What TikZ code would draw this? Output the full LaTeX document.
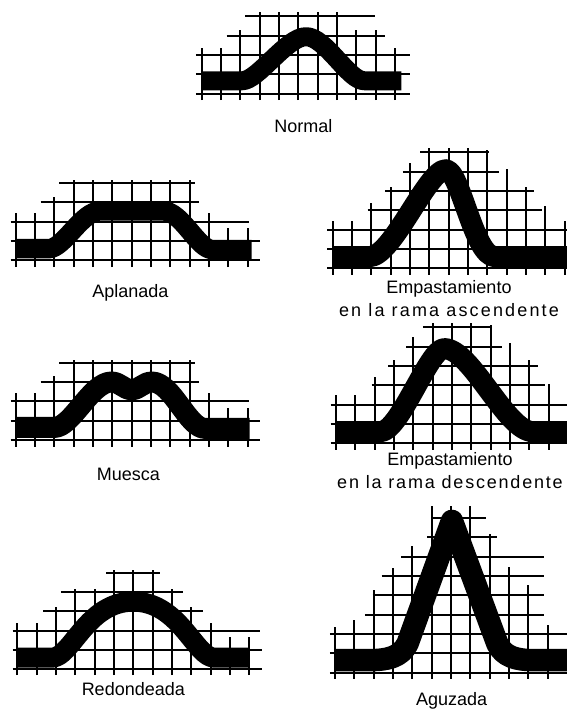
\documentclass[tikz,border=0pt]{standalone}
\usepackage{fontspec}
\setmainfont{Liberation Sans}

\begin{document}
\begin{tikzpicture}[x=1pt, y=-1pt,
    gridline/.style={line width=1.9pt},
    wave/.style={line width=#1, line cap=butt, line join=round},
    wave/.default=20pt,
    caption/.style={font=\fontsize{18}{23}\selectfont, align=center, inner sep=0pt, anchor=base},
    panel/.style={x=19.33pt, y=19.33pt}
  ]
  \useasboundingbox (0,0) rectangle (567,713);

  % Normal
  \begin{scope}[shift={(201.7,93.7)}, panel]
    \foreach \i/\t in {0/2.38,1/2.38,2/3.3,3/4.22,4/4.22,5/4.22,6/4.22,7/4.22,8/3.3,9/3.3,10/2.38}
      \draw[gridline] (\i,-0.33) -- (\i,\t);
    \foreach \j/\a/\b in {0/-0.3/10.76,1/-0.3/10.76,2/-0.3/10.76,3/1.29/9.47,4/2.24/8.96}
      \draw[gridline] (\a,\j) -- (\b,\j);
    \draw[wave=19pt] (0,0.67) -- (2.1,0.67) .. controls (2.9,0.67) and (4.4,2.95) .. (5.4,2.95)
      .. controls (6.4,2.95) and (7.6,0.67) .. (8.4,0.67) -- (10.33,0.67);
  \end{scope}
  \node[caption] (normal) at (303.3,132.3) {Normal};

  % Aplanada
  \begin{scope}[shift={(15.7,260.3)}, panel]
    \foreach \i/\t in {0/2.43,1/2.43,2/3.3,3/4.16,4/4.16,5/4.16,6/4.16,7/4.16,8/4.16,9/4.16,10/2.43,11/1.66,12/1.66}
      \draw[gridline] (\i,-0.35) -- (\i,\t);
    \foreach \j/\a/\b in {0/-0.26/12.64,1/-0.26/12.64,2/-0.26/12.08,3/1.29/9.5,4/2.26/9.28}
      \draw[gridline] (\a,\j) -- (\b,\j);
    \draw[wave=19.5pt] (0,0.6) -- (1.7,0.6) .. controls (2.5,0.6) and (3.4,2.56) .. (4.4,2.56)
      -- (7.6,2.56) .. controls (8.6,2.56) and (9.4,0.55) .. (10.2,0.55) -- (12.2,0.55);
  \end{scope}
  \node[caption] (aplanada) at (130.3,297) {Aplanada};

  % Muesca
  \begin{scope}[shift={(15.7,440)}, panel]
    \foreach \i/\t in {0/2.43,1/2.43,2/3.3,3/4.16,4/4.16,5/4.16,6/4.16,7/4.16,8/4.16,9/4.16,10/2.43,11/1.66,12/1.66}
      \draw[gridline] (\i,-0.35) -- (\i,\t);
    \foreach \j/\a/\b in {0/-0.26/12.64,1/-0.26/12.64,2/-0.26/12.08,3/1.29/9.5,4/2.26/9.28}
      \draw[gridline] (\a,\j) -- (\b,\j);
    \draw[wave=21pt] (0,0.65) -- (2.0,0.65) .. controls (2.9,0.65) and (3.9,3.0) .. (4.95,3.0)
      .. controls (5.4,3.0) and (5.6,2.6) .. (6.0,2.6) .. controls (6.4,2.6) and (6.6,3.0) .. (7.05,3.0)
      .. controls (8.1,3.0) and (8.9,0.6) .. (9.8,0.6) -- (12.1,0.6);
  \end{scope}
  \node[caption] (muesca) at (128.3,480) {Muesca};

  % Empastamiento en la rama ascendente
  \begin{scope}[shift={(332.7,268.3)}, panel]
    \foreach \i/\t in {0/2.47,1/2.47,2/3.37,3/4.23,4/5.44,5/6.2,6/6.2,7/6.2,8/6.1,9/5.13,10/4.23,11/3.2,12/2.47}
      \draw[gridline] (\i,-0.33) -- (\i,\t);
    \foreach \j/\a/\b in {0/-0.28/12.5,1/-0.28/12.5,2/-0.28/12.5,3/1.81/10.83,4/2.71/10.4,5/3.63/8.58,6/4.52/8.06}
      \draw[gridline] (\a,\j) -- (\b,\j);
    \draw[wave=21pt] (0,0.6) -- (1.9,0.6) .. controls (3.1,0.6) and (4.9,5.1) .. (5.85,5.1)
      .. controls (6.6,5.1) and (7.3,0.6) .. (8.4,0.6) -- (12.5,0.6);
  \end{scope}
  \node[caption] (ascendente) at (449,316.7)
    {Empastamiento\\{\addfontfeature{LetterSpace=12}en la rama ascendente}};

  % Empastamiento en la rama descendente
  \begin{scope}[shift={(336,443.3)}, panel]
    \foreach \i/\t in {0/2.5,1/2.5,2/3.45,3/4.3,4/5.5,5/6.24,6/6.24,7/6.24,8/6.1,9/5.17,10/4.3,11/3.07}
      \draw[gridline] (\i,-0.33) -- (\i,\t);
    \foreach \j/\a/\b in {0/-0.28/12.5,1/-0.28/12.5,2/-0.28/12.5,3/1.84/10.83,4/2.71/10.43,5/3.63/8.58,6/4.5/8.06}
      \draw[gridline] (\a,\j) -- (\b,\j);
    \draw[wave=21pt] (0,0.6) -- (2.3,0.6) .. controls (3.3,0.6) and (4.8,4.9) .. (5.6,4.9)
      .. controls (7.0,4.9) and (8.8,0.6) .. (10.2,0.6) -- (12.5,0.6);
  \end{scope}
  \node[caption] (descendente) at (450,488.3)
    {Empastamiento\\{\addfontfeature{LetterSpace=10}en la rama descendente}};

  % Redondeada
  \begin{scope}[shift={(17.3,669.3)}, panel]
    \foreach \i/\t in {0/2.38,1/2.38,2/3.24,3/4.14,4/4.14,5/5.14,6/5.14,7/5.14,8/4.14,9/3.24,10/2.38,11/1.66,12/1.66}
      \draw[gridline] (\i,-0.3) -- (\i,\t);
    \foreach \j/\a/\b in {0/-0.24/12.65,1/-0.24/12.65,2/-0.24/12.58,3/1.35/9.6,4/2.26/8.56,5/4.6/7.4}
      \draw[gridline] (\a,\j) -- (\b,\j);
    \draw[wave] (0,0.6) -- (1.8,0.6) .. controls (2.8,0.6) and (3.6,3.5) .. (6.0,3.5)
      .. controls (8.4,3.5) and (9.2,0.6) .. (10.2,0.6) -- (12.0,0.6);
  \end{scope}
  \node[caption] (redondeada) at (133.3,695.7) {Redondeada};

  % Aguzada
  \begin{scope}[shift={(335,672.7)}, panel]
    \foreach \i/\t in {0/2.38,1/2.73,2/4.28,3/5.4,4/6.55,5/8.6,6/8.6,7/8.6,8/7.2,9/5.48,10/4.53,11/2.46}
      \draw[gridline] (\i,-0.3) -- (\i,\t);
    \foreach \j/\a/\b in {0/-0.26/12.5,1/-0.26/12.5,2/-0.26/12.5,3/1.55/10.8,4/1.95/10.8,5/2.41/10.8,6/3.43/10.8,7/4.77/8.4,8/5.0/7.8}
      \draw[gridline] (\a,\j) -- (\b,\j);
    \draw[wave=22.5pt] (0,0.65) -- (1.8,0.65) .. controls (2.7,0.65) and (3.4,0.8) .. (3.75,1.5)
      -- (6.05,7.85) -- (8.4,1.5) .. controls (8.75,0.8) and (9.4,0.65) .. (10.3,0.65) -- (12.5,0.65);
  \end{scope}
  \node[caption] (aguzada) at (451.7,705) {Aguzada};
\end{tikzpicture}
\end{document}
